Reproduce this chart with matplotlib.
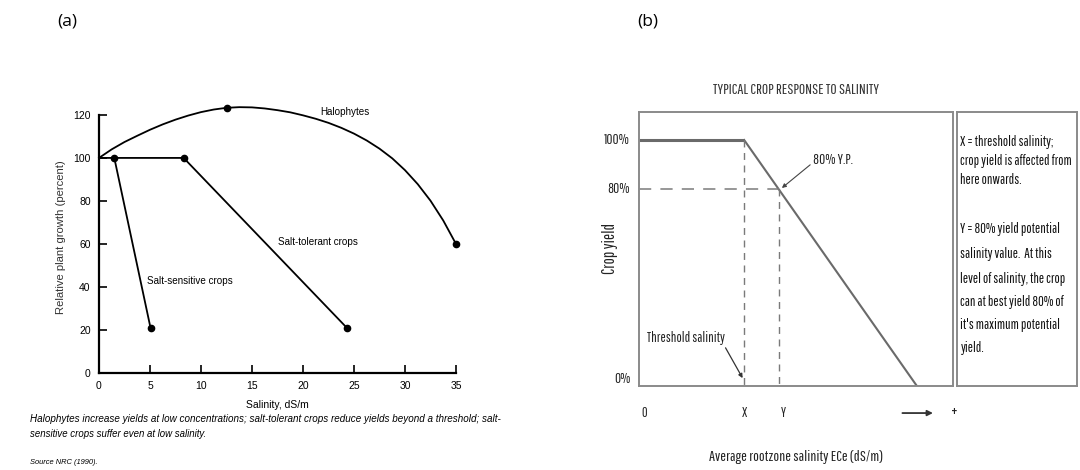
import matplotlib
matplotlib.use("Agg")
import matplotlib.pyplot as plt

# ---------------- data: panel (a) ----------------
halo_x = [0, 1.25, 2.5, 3.75, 5, 6.25, 7.5, 8.75, 10, 11.25, 12.5, 13.75, 15, 16.25, 17.5,
          18.75, 20, 21.25, 22.5, 23.75, 25, 26.25, 27.5, 28.75, 30, 31.25, 32.5, 33.75, 35]
halo_y = [100, 104, 107.4, 110.3, 113.1, 115.6, 117.8, 119.7, 121.3, 122.5, 123.3, 123.6, 123.5,
          123.0, 122.2, 121.2, 119.8, 118.2, 116.3, 114.0, 111.3, 108.1, 104.3, 99.8, 94.3,
          87.8, 80.1, 70.9, 60]
halo_dots = [10, 28]
tol_x = [0, 8.3, 24.3]
tol_y = [100, 100, 21]
tol_dots = [1, 2]
sen_x = [1.5, 5.05]
sen_y = [100, 21]
a_xticks = [0, 5, 10, 15, 20, 25, 30, 35]
a_yticks = [0, 20, 40, 60, 80, 100, 120]

# ---------------- data: panel (b) ----------------
resp_x = [0, 3.35, 8.85]
resp_y = [100, 100, 0]
thresh_x = 3.35
yp80_x = 4.45
yp80 = 80
b_ytick_vals = [100, 80, 0]
b_ytick_labels = ["100%", "80%", "0%"]
b_xtick_vals = [0.18, 3.35, 4.6]
b_xtick_labels = ["0", "X", "Y"]

narrow = ["Pathway Gothic One", "Liberation Sans", "DejaVu Sans"]
sans = ["Liberation Sans", "DejaVu Sans"]

W, H = 1080, 470
fig = plt.figure(figsize=(W / 100, H / 100), dpi=100)


def rect(l, t, r, b):
    return [l / W, 1 - b / H, (r - l) / W, (b - t) / H]


fig.text(57 / W, 1 - 22 / H, "(a)", fontsize=12.5, family=["Open Sans", "DejaVu Sans"], va="center")
fig.text(637 / W, 1 - 22 / H, "(b)", fontsize=12.5, family=["Open Sans", "DejaVu Sans"], va="center")

# ---------------- panel (a) ----------------
ax = fig.add_axes(rect(99, 102, 456, 373))
ax.plot(halo_x, halo_y, color="black", lw=1.3, marker="o", ms=4.5, markevery=halo_dots, clip_on=False)
ax.plot(tol_x, tol_y, color="black", lw=1.3, marker="o", ms=4.5, markevery=tol_dots, clip_on=False)
ax.plot(sen_x, sen_y, color="black", lw=1.3, marker="o", ms=4.5, clip_on=False)
ax.set_xlim(0, 35)
ax.set_ylim(0, 126)
ax.spines["top"].set_visible(False)
ax.spines["right"].set_visible(False)
ax.spines["left"].set_bounds(0, 120)
for s in ("left", "bottom"):
    ax.spines[s].set_linewidth(1.6)
ax.set_xticks(a_xticks)
ax.set_yticks(a_yticks)
ax.tick_params(direction="in", length=6, width=1.2, labelsize=7.5, pad=6)
for lab in ax.get_xticklabels() + ax.get_yticklabels():
    lab.set_family(sans)
ax.set_xlabel("Salinity, dS/m", fontsize=7.5, family=sans, labelpad=6)
ax.set_ylabel("Relative plant growth (percent)", fontsize=8.1, family=sans, labelpad=5, color="#333333")
ax.text(21.7, 121.4, "Halophytes", fontsize=7.1, family=sans, va="center")
ax.text(17.5, 61, "Salt-tolerant crops", fontsize=7.1, family=sans, va="center")
ax.text(4.7, 43, "Salt-sensitive crops", fontsize=7.1, family=sans, va="center")

fig.text(30 / W, 1 - 419 / H,
         "Halophytes increase yields at low concentrations; salt-tolerant crops reduce yields beyond a threshold; salt-",
         fontsize=7.1, style="italic", family=sans, va="center")
fig.text(30 / W, 1 - 434 / H, "sensitive crops suffer even at low salinity.",
         fontsize=6.9, style="italic", family=sans, va="center")
fig.text(30 / W, 1 - 463 / H, "Source NRC (1990).", fontsize=5.4, style="italic", family=sans, va="center")

# ---------------- panel (b) ----------------
gray = "#6a6a6a"
bx = fig.add_axes(rect(639, 112, 953, 386))
bx.set_xlim(0, 10)
bx.set_ylim(0, 111.4)
bx.set_xticks([])
bx.set_yticks([])
for s in bx.spines.values():
    s.set_color("#8a8a8a")
    s.set_linewidth(1.4)
bx.plot(resp_x[:2], resp_y[:2], color=gray, lw=2.2, solid_capstyle="butt")
bx.plot(resp_x[1:], resp_y[1:], color=gray, lw=1.5)
bx.plot([0, yp80_x], [yp80, yp80], color="#7a7a7a", lw=1.1, dashes=(8, 6))
bx.plot([thresh_x, thresh_x], [resp_y[1], 0], color="#7a7a7a", lw=1.0, dashes=(5, 4))
bx.plot([yp80_x, yp80_x], [yp80, 0], color="#7a7a7a", lw=1.0, dashes=(5, 4))

for v, lab in zip(b_ytick_vals, b_ytick_labels):
    yy = v + (3 if v == 0 else 0)
    bx.text(-0.28, yy, lab, ha="right", va="center", fontsize=10.5, family=narrow, color="#222222")
for v, lab in zip(b_xtick_vals, b_xtick_labels):
    bx.text(v, -11, lab, ha="center", va="center", fontsize=10, family=narrow, color="#222222")
bx.annotate("", xy=(9.45, -11), xytext=(8.3, -11), annotation_clip=False,
            arrowprops=dict(arrowstyle="-|>", color="#333333", lw=1.3, mutation_scale=8))
bx.text(10.05, -11, "+", ha="center", va="center", fontsize=13, family=narrow, color="#222222")

bx.annotate("80% Y.P.", xy=(4.55, 80.5), xytext=(5.54, 92.0), fontsize=10.5, family=narrow,
            color="#222222", ha="left", va="center",
            arrowprops=dict(arrowstyle="-|>", color="#444444", lw=0.8, mutation_scale=6,
                            shrinkA=0, shrinkB=0, relpos=(0, 0.3)))
bx.annotate("Threshold salinity", xy=(3.3, 3.2), xytext=(0.25, 19.5), fontsize=10.2, family=narrow,
            color="#222222", ha="left", va="center",
            arrowprops=dict(arrowstyle="-|>", color="#333333", lw=0.9, mutation_scale=6,
                            shrinkA=0, shrinkB=0, relpos=(0.97, 0.2)))

bx.set_title("TYPICAL CROP RESPONSE TO SALINITY", fontsize=11, family=narrow, color="#333333", pad=13)
bx.set_ylabel("Crop yield", fontsize=12, family=narrow, color="#222222", labelpad=15)
bx.set_xlabel("Average rootzone salinity ECe (dS/m)", fontsize=11, family=narrow, style="italic",
              color="#222222", labelpad=46)

tx = fig.add_axes(rect(957, 112, 1077, 386))
tx.set_xticks([])
tx.set_yticks([])
for s in tx.spines.values():
    s.set_color("#8a8a8a")
    s.set_linewidth(1.4)
box_lines = [
    ("X = threshold salinity;", 142),
    ("crop yield is affected from", 161),
    ("here onwards.", 180),
    ("Y = 80% yield potential", 229),
    ("salinity value.  At this", 254),
    ("level of salinity, the crop", 279),
    ("can at best yield 80% of", 302),
    ("it's maximum potential", 325),
    ("yield.", 348),
]
for txt, py in box_lines:
    fig.text(960 / W, 1 - py / H, txt, fontsize=10.1, family=narrow, color="#111111", va="center")

fig.savefig("out.png", dpi=100)
